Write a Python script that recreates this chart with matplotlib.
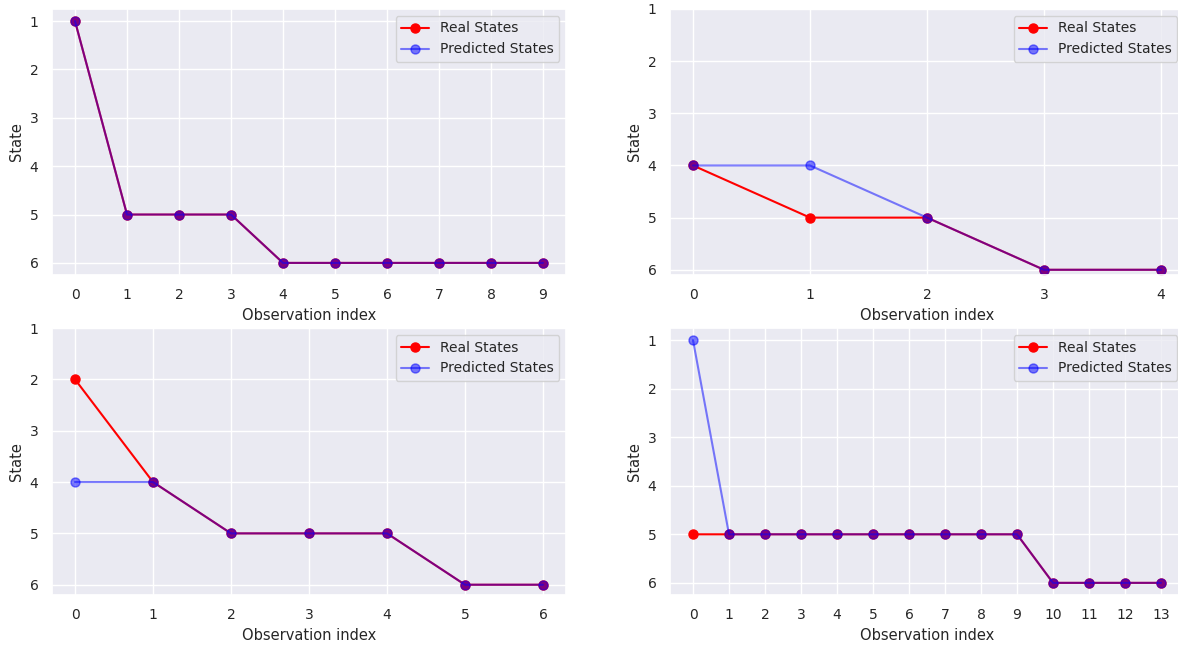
import matplotlib
matplotlib.use("Agg")
import matplotlib.pyplot as plt
import seaborn as sns

sns.set_theme(style="darkgrid")
plt.rcParams['font.family'] = ['DejaVu Sans']

real_1 = [1, 5, 5, 5, 6, 6, 6, 6, 6, 6]
pred_1 = [1, 5, 5, 5, 6, 6, 6, 6, 6, 6]
real_2 = [4, 5, 5, 6, 6]
pred_2 = [4, 4, 5, 6, 6]
real_3 = [2, 4, 5, 5, 5, 6, 6]
pred_3 = [4, 4, 5, 5, 5, 6, 6]
real_4 = [5, 5, 5, 5, 5, 5, 5, 5, 5, 5, 6, 6, 6, 6]
pred_4 = [1, 5, 5, 5, 5, 5, 5, 5, 5, 5, 6, 6, 6, 6]
state_ticks = [1, 2, 3, 4, 5, 6]

W, H = 1178, 646
fig = plt.figure(figsize=(W / 100, H / 100), dpi=100)

# axes boxes in pixels: left, top, right, bottom
boxes = [
    (51.6, 9, 566.4, 275),
    (669.6, 9, 1184.4, 275),
    (51.6, 328, 566.4, 595),
    (669.6, 328, 1184.4, 595),
]
series = [(real_1, pred_1), (real_2, pred_2), (real_3, pred_3), (real_4, pred_4)]

for (l, t, r, b), (real, pred) in zip(boxes, series):
    ax = fig.add_axes([l / W, 1 - b / H, (r - l) / W, (b - t) / H])
    x = list(range(len(real)))
    ax.plot(x, real, marker='o', markersize=6.5, color='red', label='Real States')
    ax.plot(x, pred, marker='o', markersize=6.5, color='blue', alpha=0.5,
            label='Predicted States')
    ax.set_xticks(x)
    ax.set_yticks(state_ticks)
    ax.invert_yaxis()
    ax.set_xlabel('Observation index', fontsize=10.5, labelpad=4)
    ax.set_ylabel('State', fontsize=10.5)
    ax.tick_params(labelsize=10)
    ax.legend(loc='upper right', fontsize=10)

fig.savefig('out.png', dpi=100)
